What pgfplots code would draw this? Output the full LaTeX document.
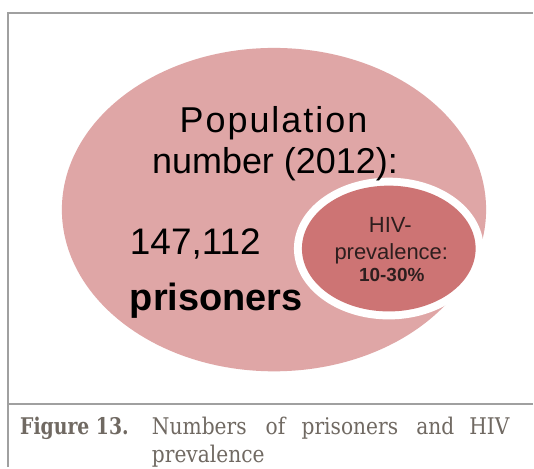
\documentclass[border=0pt]{standalone}
\usepackage{graphicx}
\usepackage{pgfplots}
\pgfplotsset{compat=1.18}
\usepackage{fontspec}
\setmainfont{DejaVu Serif}
\newfontfamily\arial{Liberation Sans}
\definecolor{bigpink}{RGB}{223,166,166}
\definecolor{smallred}{RGB}{205,116,116}
\definecolor{framegray}{RGB}{160,160,160}
\definecolor{capgray}{RGB}{112,105,98}
\definecolor{hivtext}{RGB}{45,30,30}
\newcommand{\captxt}[1]{\scalebox{0.88}[1]{\fontsize{23}{26}\selectfont #1}}
\begin{document}
\begin{tikzpicture}
\begin{axis}[
  at={(0,0)}, anchor=origin,
  scale only axis, width=534pt, height=468pt,
  xmin=0, xmax=534, ymin=0, ymax=468, y dir=reverse,
  hide axis, clip=false]
% background
\fill[white] (axis cs:0,0) rectangle (axis cs:534,468);
% frame
\draw[framegray, line width=2pt] (axis cs:8,468) -- (axis cs:8,13) -- (axis cs:534,13);
\draw[framegray, line width=2pt] (axis cs:8,405) -- (axis cs:534,405);
% big ellipse
\fill[bigpink] (axis cs:274.5,210) ellipse [x radius=212.5, y radius=162];
% small ellipse with white ring
\fill[white] (axis cs:389.5,249) ellipse [x radius=95, y radius=71];
\fill[smallred] (axis cs:389.5,249) ellipse [x radius=87, y radius=63];
% big texts
\node[anchor=base, inner sep=0] at (axis cs:274,133) {\arial\fontsize{36}{40}\selectfont\addfontfeature{LetterSpace=5.5}Population};
\node[anchor=base, inner sep=0] at (axis cs:275.5,174) {\arial\fontsize{36}{40}\selectfont number (2012):};
\node[anchor=base west, inner sep=0] at (axis cs:130,255) {\arial\fontsize{37}{40}\selectfont 147,112};
\node[anchor=base west, inner sep=0] at (axis cs:130,311) {\arial\bfseries\fontsize{38}{40}\selectfont prisoners};
% HIV text
\node[anchor=base, inner sep=0, text=hivtext] at (axis cs:391,233) {\arial\fontsize{22}{24}\selectfont HIV-};
\node[anchor=base, inner sep=0, text=hivtext] at (axis cs:392,260) {\arial\fontsize{22}{24}\selectfont prevalence:};
\node[anchor=base, inner sep=0, text=hivtext] at (axis cs:392.5,282) {\arial\bfseries\fontsize{19}{22}\selectfont 10-30\%};
% caption
\node[anchor=base west, inner sep=0, text=capgray] at (axis cs:20,435) {\scalebox{0.82}[1]{\bfseries\fontsize{23}{26}\selectfont Figure 13.}};
\node[anchor=base west, inner sep=0, text=capgray] at (axis cs:152,435) {\captxt{Numbers}};
\node[anchor=base west, inner sep=0, text=capgray] at (axis cs:266,435) {\captxt{of}};
\node[anchor=base west, inner sep=0, text=capgray] at (axis cs:302,435) {\captxt{prisoners}};
\node[anchor=base west, inner sep=0, text=capgray] at (axis cs:417,435) {\captxt{and}};
\node[anchor=base west, inner sep=0, text=capgray] at (axis cs:470,435) {\captxt{HIV}};
\node[anchor=base west, inner sep=0, text=capgray] at (axis cs:152,463) {\captxt{prevalence}};
\end{axis}
\end{tikzpicture}
\end{document}
